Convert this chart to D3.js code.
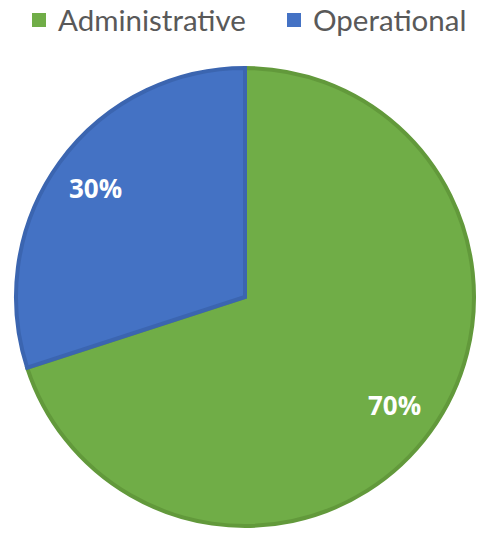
<!DOCTYPE html>
<html>
<head>
<meta charset="utf-8">
<script src="https://cdn.jsdelivr.net/npm/d3@7"></script>
<style>
  body { margin: 0; background: #fff; }
</style>
</head>
<body>
<div class="canvas"></div>
<script>
// data
const categories = ['Administrative', 'Operational'];
const values = [70, 30];
const labels = ['70%', '30%'];

const colors = ['#70ad47', '#4472c4'];
const borders = ['#62993b', '#3b65b0'];

const width = 478, height = 533;
const cx = 245, cy = 297, radius = 231;

const svg = d3.select('.canvas')
    .append('svg')
    .attr('width', width)
    .attr('height', height);

const data = categories.map((c, i) => ({name: c, value: values[i], label: labels[i], i}));

const pie = d3.pie().sort(null).value(d => d.value);
const arc = d3.arc().innerRadius(0).outerRadius(radius - 2);
const labelArc = d3.arc().innerRadius(radius * 0.8).outerRadius(radius * 0.8);

const graph = svg.append('g')
    .attr('transform', `translate(${cx}, ${cy})`);

const arcs = pie(data);

graph.selectAll('path')
    .data(arcs)
    .enter()
    .append('path')
    .attr('d', arc)
    .attr('fill', d => colors[d.data.i])
    .attr('stroke', d => borders[d.data.i])
    .attr('stroke-width', 4)
    .attr('stroke-linejoin', 'miter');

graph.selectAll('text.lbl')
    .data(arcs)
    .enter()
    .append('text')
    .attr('class', 'lbl')
    .attr('transform', d => `translate(${labelArc.centroid(d)})`)
    .attr('text-anchor', 'middle')
    .attr('dy', '0.36em')
    .attr('fill', '#fff')
    .attr('font-family', 'Open Sans, sans-serif')
    .attr('font-weight', 'bold')
    .attr('font-size', 26)
    .text(d => d.data.label);

// legend
const legend = svg.append('g');
const legendX = [32, 287];
const items = legend.selectAll('g')
    .data(data)
    .enter()
    .append('g')
    .attr('transform', d => `translate(${legendX[d.i]}, 13)`);

items.append('rect')
    .attr('width', 14)
    .attr('height', 14)
    .attr('fill', d => colors[d.i]);

items.append('text')
    .attr('x', 26)
    .attr('y', 7)
    .attr('dy', '0.36em')
    .attr('fill', '#595959')
    .attr('font-family', 'Lato, sans-serif')
    .attr('font-size', 29.5)
    .text(d => d.name);
</script>
</body>
</html>
